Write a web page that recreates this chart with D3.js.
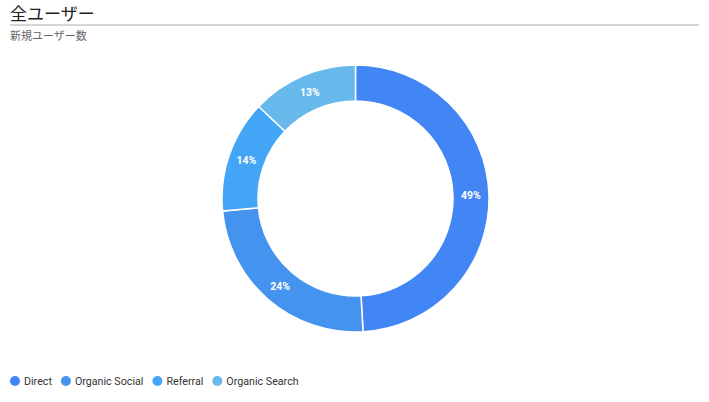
<!DOCTYPE html>
<html>
<head>
<meta charset="utf-8">
<script src="https://cdn.jsdelivr.net/npm/d3@7"></script>
<style>
  body { margin: 0; background: #fff; }
  svg { display: block; font-family: Roboto, "Noto Sans CJK JP", sans-serif; }
</style>
</head>
<body>
<div id="chart"></div>
<script>
const width = 709;
const height = 402;

const channels = ["Direct", "Organic Social", "Referral", "Organic Search"];
const newUsers = [491, 244, 136, 129];
const colors = ["#4286f5", "#4493ef", "#42a5f5", "#67b9ec"];

const titleText = "全ユーザー";
const subtitleText = "新規ユーザー数";

const data = channels.map((c, i) => ({ name: c, value: newUsers[i], color: colors[i] }));
const total = d3.sum(newUsers);

const svg = d3.select("#chart")
    .append("svg")
    .attr("width", width)
    .attr("height", height);

// header
svg.append("text")
    .attr("x", 10)
    .attr("y", 20)
    .style("font-size", "17px")
    .style("font-family", "'Noto Sans CJK JP', sans-serif")
    .attr("fill", "#202124")
    .text(titleText);

svg.append("line")
    .attr("x1", 10)
    .attr("x2", 699)
    .attr("y1", 25)
    .attr("y2", 25)
    .attr("stroke", "#c8c8c8")
    .attr("stroke-width", 1.5);

svg.append("text")
    .attr("x", 10)
    .attr("y", 40)
    .style("font-size", "11px")
    .style("font-family", "'Noto Sans CJK JP', sans-serif")
    .attr("fill", "#666")
    .text(subtitleText);

// donut
const cx = 355.5, cy = 198.5;
const outerR = 133.5, innerR = 97.5;

const pie = d3.pie()
    .value(d => d.value)
    .sort(null);

const arc = d3.arc()
    .innerRadius(innerR)
    .outerRadius(outerR);

const g = svg.append("g")
    .attr("transform", `translate(${cx}, ${cy})`);

const arcs = pie(data);

g.selectAll("path")
    .data(arcs)
    .enter()
    .append("path")
    .attr("d", arc)
    .attr("fill", d => d.data.color)
    .attr("stroke", "#fff")
    .attr("stroke-width", 1.5);

g.selectAll("text")
    .data(arcs)
    .enter()
    .append("text")
    .attr("transform", d => `translate(${arc.centroid(d)})`)
    .attr("dy", "0.35em")
    .style("text-anchor", "middle")
    .style("font-size", "10.5px")
    .style("font-weight", "bold")
    .attr("fill", "#fff")
    .text(d => `${Math.round(d.data.value / total * 100)}%`);

// legend
const legend = svg.append("g")
    .attr("transform", "translate(15, 381)");

let lx = 0;
data.forEach(d => {
    const item = legend.append("g").attr("transform", `translate(${lx}, 0)`);
    item.append("circle")
        .attr("r", 5)
        .attr("fill", d.color);
    const t = item.append("text")
        .attr("x", 9)
        .attr("dy", "0.35em")
        .style("font-size", "10.7px")
        .attr("fill", "#333")
        .text(d.name);
    lx += 9 + t.node().getComputedTextLength() + 14;
});
</script>
</body>
</html>
